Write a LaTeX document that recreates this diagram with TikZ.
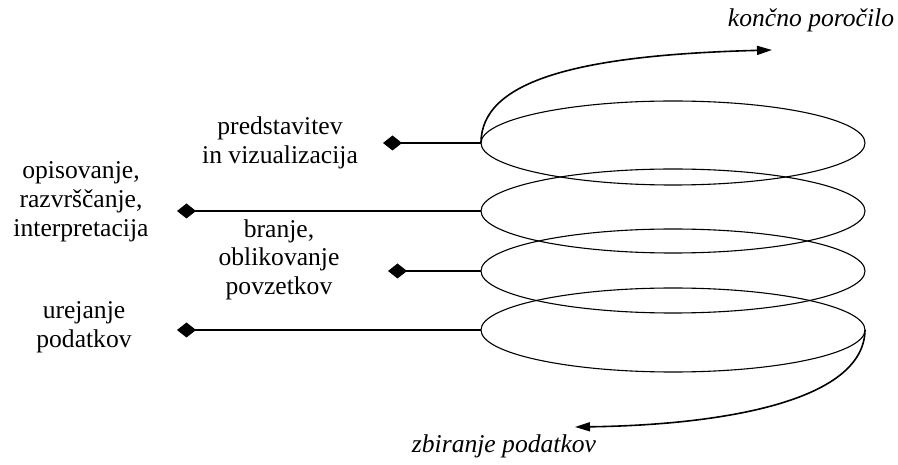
\documentclass[tikz,border=0pt]{standalone}
\usepackage{fontspec}
\setmainfont{Liberation Serif}
\usetikzlibrary{shapes.geometric,arrows.meta}
\begin{document}
\begin{tikzpicture}[x=1pt, y=-1pt, every node/.style={font=\fontsize{25.6}{29}\selectfont}]
    \tikzstyle{loop_style}=[ellipse, draw, line width=1.1pt, minimum width=384pt, minimum height=84pt, inner sep=0pt, outer sep=0pt]
    \tikzstyle{label_style}=[align=center, anchor=base, inner sep=0pt]
    \tikzstyle{step_edge}=[line width=1.6pt, {Diamond[length=19pt,width=15pt]}-]
    \tikzstyle{flow_edge}=[line width=1.6pt, -{Triangle[length=15pt,width=9pt]}]
    \useasboundingbox (0,0) rectangle (898,465);

    % --- spiral loops ---
    \node[loop_style] (loop1) at (673,143) {};
    \node[loop_style] (loop2) at (673,211) {};
    \node[loop_style] (loop3) at (673,271) {};
    \node[loop_style] (loop4) at (673,330) {};

    % --- steps ---
    \coordinate (p1) at (383,143);
    \coordinate (p2) at (177,211);
    \coordinate (p3) at (388,271);
    \coordinate (p4) at (177,330);
    \draw[step_edge] (p1) -- (loop1.west);
    \draw[step_edge] (p2) -- (loop2.west);
    \draw[step_edge] (p3) -- (loop3.west);
    \draw[step_edge] (p4) -- (loop4.west);

    \node[label_style] (lab1) at (280,164) {predstavitev\\in vizualizacija};
    \node[label_style] (lab2) at (81,237) {opisovanje,\\razvrščanje,\\interpretacija};
    \node[label_style] (lab3) at (279,295) {branje,\\oblikovanje\\povzetkov};
    \node[label_style] (lab4) at (84,348) {urejanje\\podatkov};

    % --- in and out ---
    \coordinate (top) at (772,50);
    \coordinate (bottom) at (575,427);
    \draw[flow_edge] (loop1.west) .. controls (481,80) and (580,55) .. (top);
    \draw[flow_edge] (loop4.east) .. controls (864,402) and (720,425) .. (bottom);
    \node[label_style, font=\fontsize{25.6}{29}\selectfont\itshape] (report) at (811,27) {končno poročilo};
    \node[label_style, font=\fontsize{25.6}{29}\selectfont\itshape] (collect) at (504,452) {zbiranje podatkov};
  \end{tikzpicture}
\end{document}
